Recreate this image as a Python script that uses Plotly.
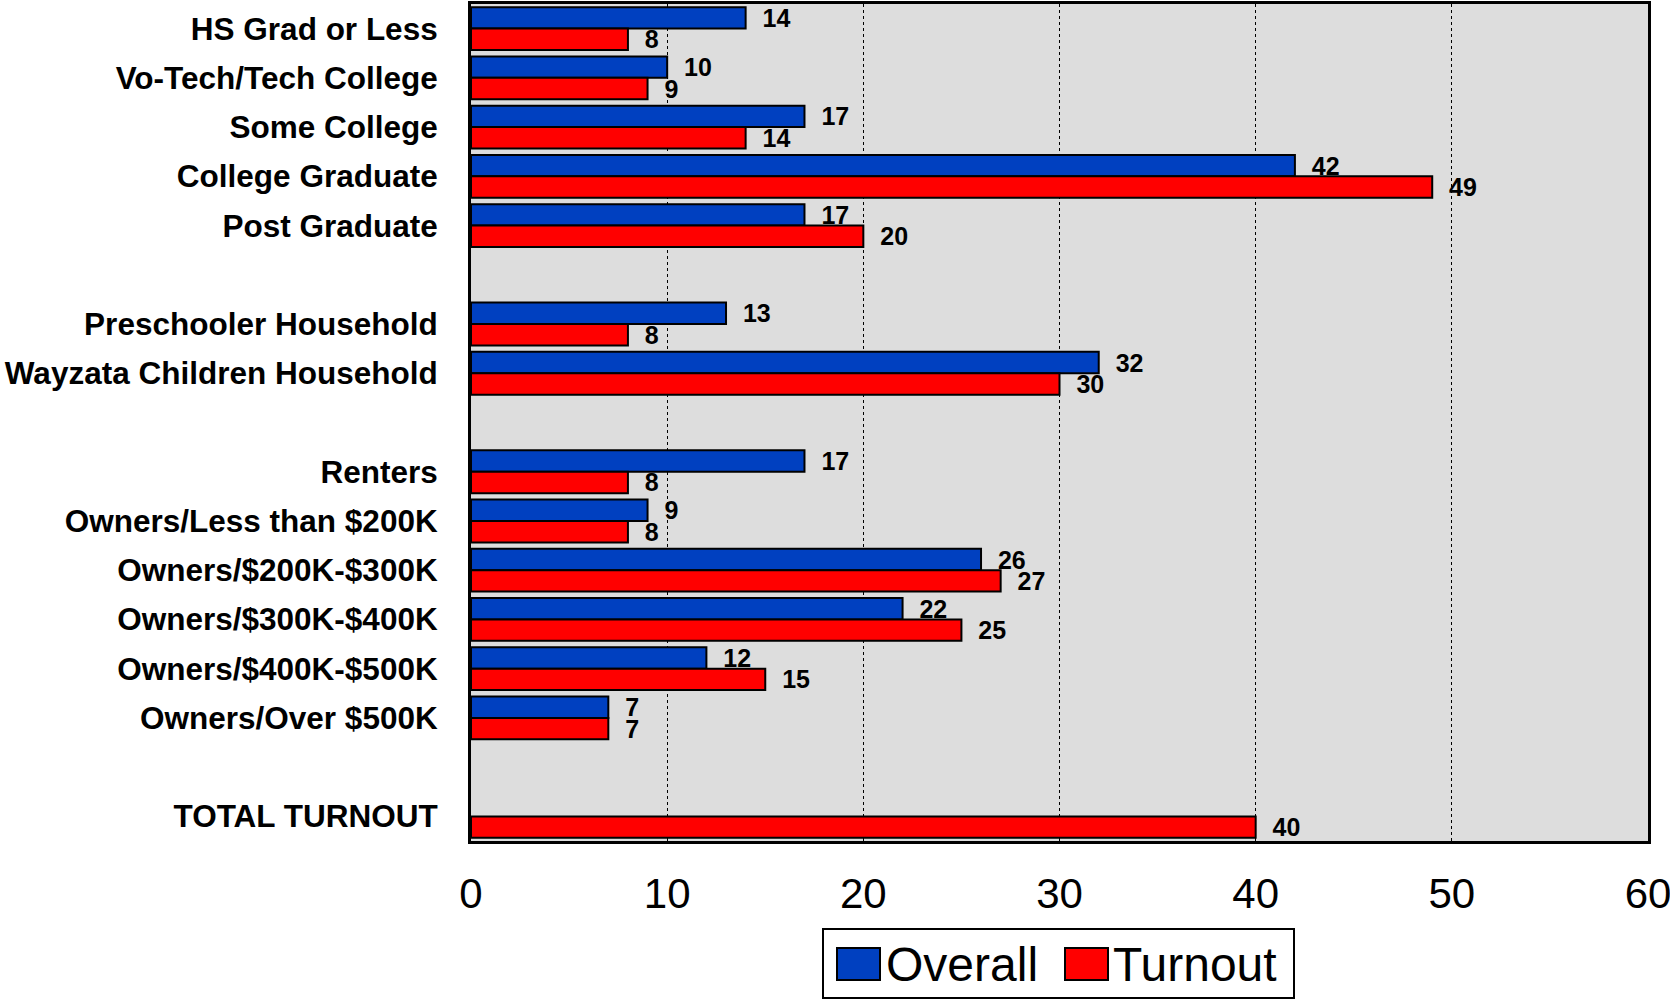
import plotly.graph_objects as go

categories = [
    "HS Grad or Less", "Vo-Tech/Tech College", "Some College", "College Graduate", "Post Graduate",
    " ",
    "Preschooler Household", "Wayzata Children Household",
    "  ",
    "Renters", "Owners/Less than $200K", "Owners/$200K-$300K", "Owners/$300K-$400K",
    "Owners/$400K-$500K", "Owners/Over $500K",
    "   ",
    "TOTAL TURNOUT",
]
overall = [14, 10, 17, 42, 17, None, 13, 32, None, 17, 9, 26, 22, 12, 7, None, None]
turnout = [8, 9, 14, 49, 20, None, 8, 30, None, 8, 8, 27, 25, 15, 7, None, 40]
x_ticks = [0, 10, 20, 30, 40, 50, 60]

BLUE = "#0040C0"
RED = "#FF0000"
FONT = "Liberation Sans, Arial, sans-serif"

def labels(vals):
    return ["" if v is None else "  " + str(v) for v in vals]

fig = go.Figure()
for name, vals, col in [("Overall", overall, BLUE), ("Turnout", turnout, RED)]:
    fig.add_trace(go.Bar(
        name=name, y=categories, x=vals, orientation="h",
        marker=dict(color=col, line=dict(color="black", width=2)),
        text=labels(vals), textposition="outside", cliponaxis=False,
        constraintext="none",
        textfont=dict(family=FONT, size=25, color="black", weight="bold"),
        hoverinfo="skip", showlegend=False,
    ))

W, H = 1670, 1000
L, R, T, B = 471, 22, 4, 159
pw, ph = W - L - R, H - T - B

def px(x):
    return (x - L) / pw

def py(y):
    return (H - B - y) / ph

shapes = [
    dict(type="rect", xref="paper", yref="paper", x0=px(823), x1=px(1294), y0=py(998), y1=py(929),
         line=dict(color="black", width=2), fillcolor="white"),
    dict(type="rect", xref="paper", yref="paper", x0=px(837), x1=px(880), y0=py(980), y1=py(948),
         line=dict(color="black", width=2), fillcolor=BLUE),
    dict(type="rect", xref="paper", yref="paper", x0=px(1065), x1=px(1108), y0=py(980), y1=py(948),
         line=dict(color="black", width=2), fillcolor=RED),
]
annotations = [
    dict(xref="paper", yref="paper", x=px(884), y=py(964), text="Overall", showarrow=False,
         xanchor="left", yanchor="middle", font=dict(family=FONT, size=48, color="black")),
    dict(xref="paper", yref="paper", x=px(1111), y=py(964), text="Turnout", showarrow=False,
         xanchor="left", yanchor="middle", font=dict(family=FONT, size=48, color="black")),
]

fig.update_layout(
    width=W, height=H,
    margin=dict(l=L, r=R, t=T, b=B, pad=0, autoexpand=False),
    barmode="group", bargap=0.13, bargroupgap=0,
    plot_bgcolor="#DDDDDD", paper_bgcolor="white",
    font=dict(family=FONT, color="black"),
    shapes=shapes, annotations=annotations,
    showlegend=False,
)
fig.update_xaxes(
    range=[0, 60], tickvals=x_ticks, ticktext=[str(v) for v in x_ticks],
    showgrid=True, gridcolor="black", gridwidth=1, griddash="3px,3px",
    zeroline=False, showline=True, linecolor="black", linewidth=3, mirror=True,
    ticks="outside", ticklen=14, tickcolor="rgba(0,0,0,0)",
    tickfont=dict(family=FONT, size=42, color="black"),
    ticklabeloverflow="allow", automargin=False,
)
fig.update_yaxes(
    categoryorder="array", categoryarray=categories, autorange="reversed",
    showgrid=False, showline=True, linecolor="black", linewidth=3, mirror=True,
    ticks="outside", ticklen=24, tickcolor="rgba(0,0,0,0)",
    tickfont=dict(family=FONT, size=31.5, color="black", weight="bold"),
    automargin=False,
)

fig.write_html(
    "out.html",
    config={"displayModeBar": False},
    post_script="document.body.style.margin='0';document.body.style.overflow='hidden';",
)
